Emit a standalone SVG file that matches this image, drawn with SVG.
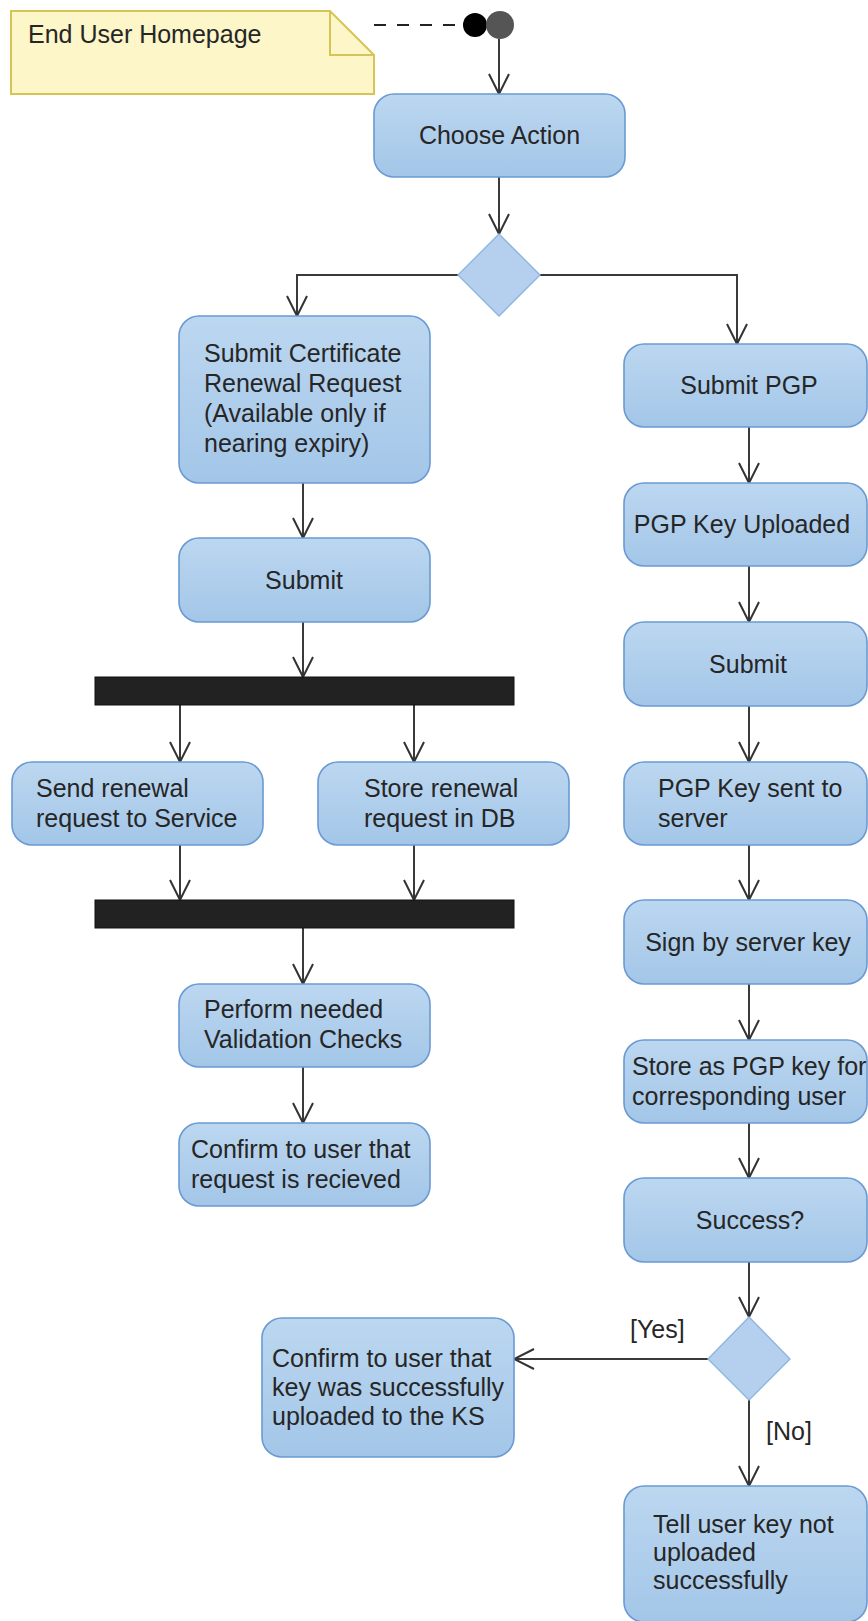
<svg xmlns="http://www.w3.org/2000/svg" width="868" height="1621" viewBox="0 0 868 1621">
  <style>
    .act { fill: url(#actFill); stroke: #6a9ad3; stroke-width: 1.6; }
    .dec { fill: #b5d0ee; stroke: #8fb4df; stroke-width: 1.4; }
    .bar { fill: #222222; stroke: #111111; stroke-width: 1; }
    .lbl { font-family: "Liberation Sans", Arial, sans-serif; font-size: 25px; fill: #262626; }
    .mid { text-anchor: middle; }
    .flow { fill: none; stroke: #3a3a3a; stroke-width: 2; marker-end: url(#arrow); }
  </style>
  <defs>
    <linearGradient id="actFill" x1="0" y1="0" x2="0" y2="1">
      <stop offset="0" stop-color="#bcd7f0"/>
      <stop offset="1" stop-color="#a3c6e8"/>
    </linearGradient>
    <marker id="arrow" viewBox="0 0 22 22" refX="21" refY="11" markerWidth="22" markerHeight="22" markerUnits="userSpaceOnUse" orient="auto">
      <path d="M1,1 L21,11 L1,21" fill="none" stroke="#333333" stroke-width="2"/>
    </marker>
  </defs>

  <rect width="868" height="1621" fill="#ffffff"/>

  <!-- note -->
  <g id="note">
    <path d="M11,11 L330,11 L374,55 L374,94 L11,94 Z" fill="#fcf6c8" stroke="#d6c457" stroke-width="2"/>
    <path d="M330,11 L330,55 L374,55" fill="none" stroke="#d6c457" stroke-width="2"/>
    <text class="lbl" x="28" y="43">End User Homepage</text>
  </g>

  <!-- initial node -->
  <g id="start">
    <circle cx="475" cy="25" r="12" fill="#000000"/>
    <circle cx="500" cy="25" r="14" fill="#555555"/>
  </g>

  <!-- connectors -->
  <g id="connectors">
    <path d="M374,25 L463,25" fill="none" stroke="#222222" stroke-width="2" stroke-dasharray="12 11"/>
    <path class="flow" d="M499,39 L499,94"/>
    <path class="flow" d="M499,177 L499,234"/>
    <path class="flow" d="M458,275 L297,275 L297,316"/>
    <path class="flow" d="M540,275 L737,275 L737,344"/>
    <path class="flow" d="M303,483 L303,538"/>
    <path class="flow" d="M303,622 L303,677"/>
    <path class="flow" d="M180,705 L180,762"/>
    <path class="flow" d="M414,705 L414,762"/>
    <path class="flow" d="M180,845 L180,900"/>
    <path class="flow" d="M414,845 L414,900"/>
    <path class="flow" d="M303,928 L303,984"/>
    <path class="flow" d="M303,1067 L303,1123"/>
    <path class="flow" d="M749,427 L749,483"/>
    <path class="flow" d="M749,566 L749,622"/>
    <path class="flow" d="M749,706 L749,762"/>
    <path class="flow" d="M749,845 L749,900"/>
    <path class="flow" d="M749,984 L749,1040"/>
    <path class="flow" d="M749,1123 L749,1178"/>
    <path class="flow" d="M749,1262 L749,1317"/>
    <path class="flow" d="M708,1359 L514,1359"/>
    <path class="flow" d="M749,1400 L749,1486"/>
    <text class="lbl" x="630" y="1338">[Yes]</text>
    <text class="lbl" x="766" y="1440">[No]</text>
  </g>

  <g id="choose-action">
    <rect class="act" x="374" y="94" width="251" height="83" rx="20"/>
    <text class="lbl mid" x="499.5" y="144">Choose Action</text>
  </g>

  <g id="decision-action">
    <path class="dec" d="M499,234 L540,275 L499,316 L458,275 Z"/>
  </g>

  <g id="submit-renewal">
    <rect class="act" x="179" y="316" width="251" height="167" rx="20"/>
    <text class="lbl" x="204" y="362">Submit Certificate</text>
    <text class="lbl" x="204" y="392">Renewal Request</text>
    <text class="lbl" x="204" y="422">(Available only if</text>
    <text class="lbl" x="204" y="452">nearing expiry)</text>
  </g>

  <g id="submit-left">
    <rect class="act" x="179" y="538" width="251" height="84" rx="20"/>
    <text class="lbl mid" x="304" y="589">Submit</text>
  </g>

  <g id="fork">
    <rect class="bar" x="95" y="677" width="419" height="28"/>
  </g>

  <g id="send-renewal">
    <rect class="act" x="12" y="762" width="251" height="83" rx="20"/>
    <text class="lbl" x="36" y="797">Send renewal</text>
    <text class="lbl" x="36" y="827">request to Service</text>
  </g>

  <g id="store-renewal">
    <rect class="act" x="318" y="762" width="251" height="83" rx="20"/>
    <text class="lbl" x="364" y="797">Store renewal</text>
    <text class="lbl" x="364" y="827">request in DB</text>
  </g>

  <g id="join">
    <rect class="bar" x="95" y="900" width="419" height="28"/>
  </g>

  <g id="validation">
    <rect class="act" x="179" y="984" width="251" height="83" rx="20"/>
    <text class="lbl" x="204" y="1018">Perform needed</text>
    <text class="lbl" x="204" y="1048">Validation Checks</text>
  </g>

  <g id="confirm-request">
    <rect class="act" x="179" y="1123" width="251" height="83" rx="20"/>
    <text class="lbl" x="191" y="1158">Confirm to user that</text>
    <text class="lbl" x="191" y="1188">request is recieved</text>
  </g>

  <g id="submit-pgp">
    <rect class="act" x="624" y="344" width="243" height="83" rx="20"/>
    <text class="lbl mid" x="749" y="394">Submit PGP</text>
  </g>

  <g id="pgp-uploaded">
    <rect class="act" x="624" y="483" width="243" height="83" rx="20"/>
    <text class="lbl mid" x="742" y="533">PGP Key Uploaded</text>
  </g>

  <g id="submit-right">
    <rect class="act" x="624" y="622" width="243" height="84" rx="20"/>
    <text class="lbl mid" x="748" y="673">Submit</text>
  </g>

  <g id="pgp-sent">
    <rect class="act" x="624" y="762" width="243" height="83" rx="20"/>
    <text class="lbl" x="658" y="797">PGP Key sent to</text>
    <text class="lbl" x="658" y="827">server</text>
  </g>

  <g id="sign">
    <rect class="act" x="624" y="900" width="243" height="84" rx="20"/>
    <text class="lbl mid" x="748" y="951">Sign by server key</text>
  </g>

  <g id="store-pgp">
    <rect class="act" x="624" y="1040" width="243" height="83" rx="20"/>
    <text class="lbl" x="632" y="1075">Store as PGP key for</text>
    <text class="lbl" x="632" y="1105">corresponding user</text>
  </g>

  <g id="success">
    <rect class="act" x="624" y="1178" width="243" height="84" rx="20"/>
    <text class="lbl mid" x="750" y="1229">Success?</text>
  </g>

  <g id="decision-success">
    <path class="dec" d="M749,1317 L790,1359 L749,1400 L708,1359 Z"/>
  </g>

  <g id="confirm-key">
    <rect class="act" x="262" y="1318" width="252" height="139" rx="20"/>
    <text class="lbl" x="272" y="1367">Confirm to user that</text>
    <text class="lbl" x="272" y="1396">key was successfully</text>
    <text class="lbl" x="272" y="1425">uploaded to the KS</text>
  </g>

  <g id="tell-failure">
    <rect class="act" x="624" y="1486" width="243" height="136" rx="20"/>
    <text class="lbl" x="653" y="1533">Tell user key not</text>
    <text class="lbl" x="653" y="1561">uploaded</text>
    <text class="lbl" x="653" y="1589">successfully</text>
  </g>
</svg>
